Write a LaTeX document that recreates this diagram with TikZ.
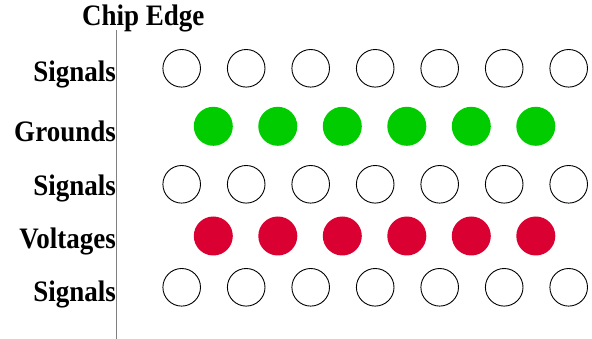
\documentclass[tikz,border=0pt]{standalone}
\usepackage{fontspec}
\setmainfont{Liberation Serif}
\definecolor{gndgreen}{RGB}{0,204,0}
\definecolor{vccred}{RGB}{218,0,50}
\newcommand{\tallbf}[1]{\scalebox{1}[1.1]{\fontsize{27}{30}\selectfont\bfseries #1}}
\begin{document}
\begin{tikzpicture}[x=1pt,y=-1pt,
  lbl/.style={anchor=base east, inner sep=0pt},
  sigpad/.style={circle, draw=black, line width=0.9pt, fill=white, minimum size=37.6pt, inner sep=0pt},
  gndpad/.style={circle, fill=gndgreen, minimum size=39pt, inner sep=0pt},
  vccpad/.style={circle, fill=vccred, minimum size=39pt, inner sep=0pt},
  edge/.style={draw=gray, line width=1.3pt}]
\useasboundingbox (0,0) rectangle (592,339);
\node[anchor=base west, inner sep=0pt] (title) at (82,25.5) {\tallbf{Chip Edge}};
\coordinate (edgetop) at (116.8,30);
\coordinate (edgebot) at (116.8,339);
\draw[edge] (edgetop) -- (edgebot);
\node[lbl] (l1) at (116,81.5) {\tallbf{Signals}};
\node[lbl] (l2) at (116,141.5) {\tallbf{Grounds}};
\node[lbl] (l3) at (116,196) {\tallbf{Signals}};
\node[lbl] (l4) at (116,249) {\tallbf{Voltages}};
\node[lbl] (l5) at (116,301.5) {\tallbf{Signals}};
\foreach \i in {0,...,6} {
  \node[sigpad] (sa\i) at (181.7+64.5*\i,68.3) {};
  \node[sigpad] (sb\i) at (181.7+64.5*\i,184.3) {};
  \node[sigpad] (sc\i) at (181.7+64.5*\i,287.3) {};
}
\foreach \i in {0,...,5} {
  \node[gndpad] (g\i) at (213.3+64.5*\i,126.3) {};
  \node[vccpad] (v\i) at (213.3+64.5*\i,236) {};
}
\end{tikzpicture}
\end{document}
